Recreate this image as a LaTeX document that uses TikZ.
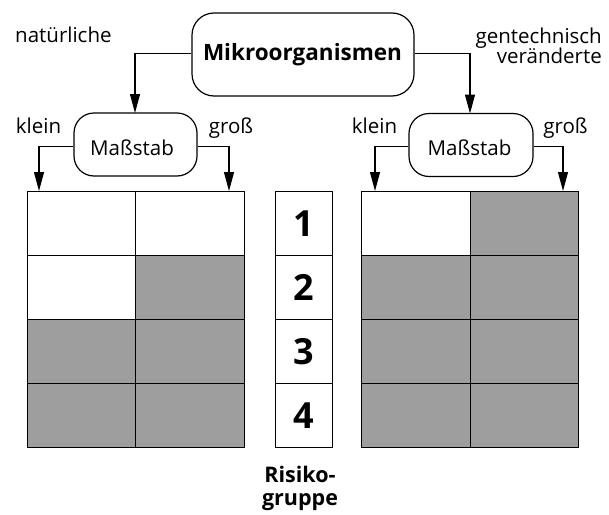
\documentclass[tikz,border=0pt]{standalone}
\usepackage{fontspec}
\setmainfont{Open Sans}
\usetikzlibrary{arrows.meta}
\definecolor{shade}{RGB}{158,158,158}
\tikzset{
  line/.style={line width=1.2pt},
  arr/.style={line, -{Triangle[length=19pt,width=10pt]}},
  rbox/.style={draw, line width=1.2pt, inner sep=0pt},
  cell/.style={draw, line width=1.2pt, inner sep=0pt, anchor=north west},
  wcell/.style={cell, fill=white, minimum width=108.5pt, minimum height=64pt},
  gcell/.style={cell, fill=shade, minimum width=108.5pt, minimum height=64pt},
  ncell/.style={cell, minimum width=57pt, minimum height=64pt, font=\bfseries\fontsize{36}{36}\selectfont},
  lbl/.style={font=\fontsize{20.5}{24}\selectfont, inner sep=0pt, anchor=base},
}
\begin{document}
\begin{tikzpicture}[x=1pt,y=-1pt]
\useasboundingbox (0,0) rectangle (609,514);
% boxes
\node[rbox, minimum width=222pt, minimum height=83pt, rounded corners=22pt] (main) at (303,54.5) {};
\node[font=\bfseries\fontsize{22.5}{24}\selectfont, inner sep=0pt, anchor=base] (mtxt) at (302.5,60) {Mikroorganismen};
\node[rbox, minimum width=123pt, minimum height=63pt, rounded corners=20pt] (ml) at (135.5,144.5) {};
\node[rbox, minimum width=124pt, minimum height=63pt, rounded corners=20pt] (mr) at (471,145) {};
\node[lbl] (mlt) at (132,155) {Maßstab};
\node[lbl] (mrt) at (469.5,155) {Maßstab};
% labels
\node[lbl, anchor=base west] (nat) at (15,42) {natürliche};
\node[lbl, anchor=base east] (gen) at (602,43) {gentechnisch};
\node[lbl, anchor=base east] (ver) at (602,63) {veränderte};
\node[lbl] (kl1) at (38.5,133) {klein};
\node[lbl] (gr1) at (231,133) {groß};
\node[lbl] (kl2) at (374.5,133) {klein};
\node[lbl] (gr2) at (565.5,133) {groß};
% left grid
\node[wcell] (L11) at (26.5,191) {};
\node[wcell] (L12) at (135,191) {};
\node[wcell] (L21) at (26.5,255) {};
\node[gcell] (L22) at (135,255) {};
\node[gcell] (L31) at (26.5,319) {};
\node[gcell] (L32) at (135,319) {};
\node[gcell] (L41) at (26.5,383) {};
\node[gcell] (L42) at (135,383) {};
% right grid
\node[wcell] (R11) at (361,191) {};
\node[gcell] (R12) at (469.5,191) {};
\node[gcell] (R21) at (361,255) {};
\node[gcell] (R22) at (469.5,255) {};
\node[gcell] (R31) at (361,319) {};
\node[gcell] (R32) at (469.5,319) {};
\node[gcell] (R41) at (361,383) {};
\node[gcell] (R42) at (469.5,383) {};
% number column
\node[ncell] (N1) at (275,191) {1};
\node[ncell] (N2) at (275,255) {2};
\node[ncell] (N3) at (275,319) {3};
\node[ncell] (N4) at (275,383) {4};
\node[font=\bfseries\fontsize{21.5}{22.5}\selectfont, align=center, inner sep=0pt, anchor=base] (risk) at (300,505) {Risiko-\\gruppe};
% arrow targets
\coordinate (t1) at (39,191);
\coordinate (t2) at (229,191);
\coordinate (t3) at (375,191);
\coordinate (t4) at (563,191);
\coordinate (a1) at (135,113);
\coordinate (a2) at (470,113.5);
% connectors
\draw[arr] (main.west |- 0,53.5) -| (a1);
\draw[arr] (main.east |- 0,53.5) -| (a2);
\draw[arr] (ml.west |- 0,146.5) -| (t1);
\draw[arr] (ml.east |- 0,146.5) -| (t2);
\draw[arr] (mr.west |- 0,146.5) -| (t3);
\draw[arr] (mr.east |- 0,146.5) -| (t4);
\end{tikzpicture}
\end{document}
